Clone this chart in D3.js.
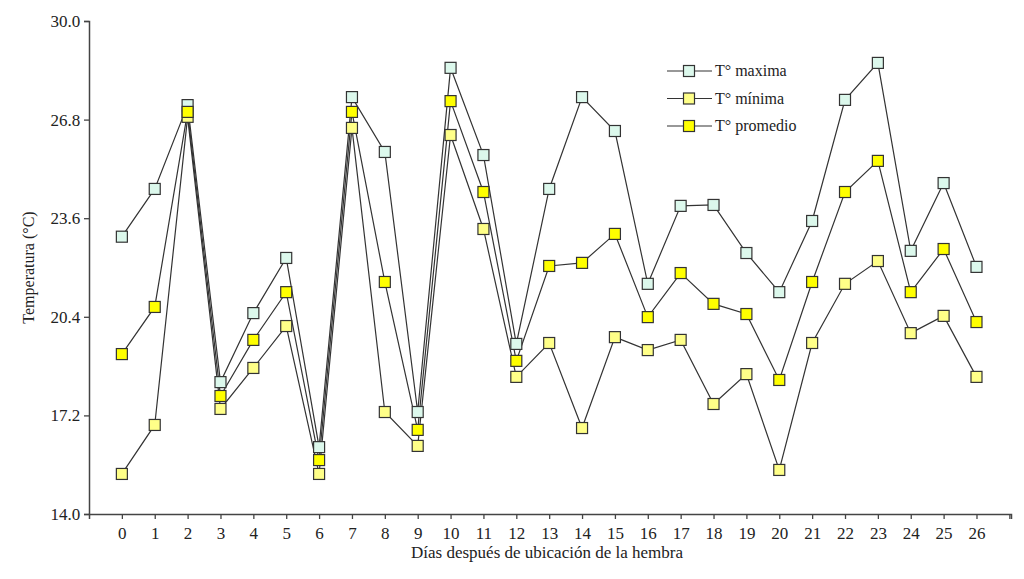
<!DOCTYPE html>
<html>
<head>
<meta charset="utf-8">
<script src="https://cdn.jsdelivr.net/npm/d3@7"></script>
<style>
  body { margin: 0; background: #fff; }
  svg text { font-family: 'Liberation Serif', 'Times New Roman', Times, serif !important; fill: #222; }
</style>
</head>
<body>
<div class="board"></div>
<script>
// days after placing the female
var days = d3.range(0, 27)
var yTicks = [14.0, 17.2, 20.4, 23.6, 26.8, 30.0]

var tMax = [23.0, 24.55, 27.27, 18.28, 20.52, 22.31, 16.17, 27.53, 25.75, 17.31, 28.48, 25.65, 19.52, 24.55,
    27.53, 26.43, 21.47, 24.0, 24.03, 22.47, 21.2, 23.51, 27.44, 28.64, 22.54, 24.74, 22.02]
var tMin = [15.3, 16.89, 26.89, 17.41, 18.74, 20.1, 15.3, 26.53, 17.31, 16.21, 26.3, 23.25, 18.45, 19.55,
    16.79, 19.74, 19.32, 19.65, 17.57, 18.54, 15.43, 19.55, 21.47, 22.21, 19.87, 20.43, 18.45]
var tProm = [19.19, 20.72, 27.05, 17.83, 19.65, 21.2, 15.75, 27.05, 21.53, 16.73, 27.4, 24.45, 18.97, 22.05,
    22.15, 23.09, 20.39, 21.82, 20.82, 20.49, 18.35, 21.53, 24.45, 25.46, 21.2, 22.6, 20.23]

var seriesNames = ["T° maxima", "T° mínima", "T° promedio"]
var seriesFill = ["#dcf8ec", "#ffff88", "#ffff00"]

var W = 1024, H = 579
var margin = { top: 21, right: 13, bottom: 65, left: 89 }
var FONT = "'Liberation Serif', 'Times New Roman', Times, serif"

var svg = d3.select(".board")
    .append("svg")
    .attr("width", W)
    .attr("height", H)
    .attr("font-family", FONT)

let x = d3.scaleLinear()
    .domain([-1, 27.05])
    .range([margin.left, W - margin.right])

let y = d3.scaleLinear()
    .domain([14, 30])
    .range([H - margin.bottom, margin.top])

// axes
let xAxis = svg.append("g")
    .attr("transform", `translate(0, ${y(14)})`)
    .call(d3.axisBottom(x)
        .tickValues(d3.range(0, 28))
        .tickSize(5)
        .tickFormat(d => d <= 26 ? d : ""))
xAxis.attr("font-family", FONT)
xAxis.selectAll("text").attr("font-size", 17).attr("dy", "1.0em")

let yAxis = svg.append("g")
    .attr("transform", `translate(${margin.left}, 0)`)
    .call(d3.axisLeft(y)
        .tickValues(yTicks)
        .tickSize(5)
        .tickFormat(d3.format(".1f")))
yAxis.attr("font-family", FONT)
yAxis.selectAll("text").attr("font-size", 17).attr("dx", "-0.05em")

svg.selectAll(".domain").attr("stroke", "#444").attr("stroke-width", 1.5)
svg.selectAll(".tick line").attr("stroke", "#444").attr("stroke-width", 1.3)
svg.selectAll(".tick text").attr("fill", "#222")

svg.append("text")
    .attr("x", (margin.left + W - margin.right) / 2 - 3)
    .attr("y", 558)
    .attr("text-anchor", "middle")
    .attr("font-size", 17)
    .text("Días después de ubicación de la hembra")

svg.append("text")
    .attr("transform", `translate(34, ${(y(14) + y(30)) / 2}) rotate(-90)`)
    .attr("text-anchor", "middle")
    .attr("font-size", 16)
    .text("Temperatura (°C)")

// series
var allSeries = [tMax, tMin, tProm]
let line = d3.line()
    .x((d, i) => x(days[i]))
    .y(d => y(d))

allSeries.forEach((s, k) => {
    svg.append("path")
        .datum(s)
        .attr("fill", "none")
        .attr("stroke", "#333")
        .attr("stroke-width", 1.2)
        .attr("d", line)
})

var SQ = 11
allSeries.forEach((s, k) => {
    svg.selectAll(".pt" + k)
        .data(s)
        .enter()
        .append("rect")
        .attr("x", (d, i) => x(days[i]) - SQ / 2)
        .attr("y", d => y(d) - SQ / 2)
        .attr("width", SQ)
        .attr("height", SQ)
        .attr("fill", seriesFill[k])
        .attr("stroke", "#333")
        .attr("stroke-width", 1.2)
})

// legend
let legend = svg.append("g").attr("transform", "translate(667, 71)")
seriesNames.forEach((name, k) => {
    let g = legend.append("g").attr("transform", `translate(0, ${k * 27.5})`)
    g.append("line")
        .attr("x1", 0).attr("x2", 45)
        .attr("stroke", "#333").attr("stroke-width", 1.2)
    g.append("rect")
        .attr("x", 22 - SQ / 2).attr("y", -SQ / 2)
        .attr("width", SQ).attr("height", SQ)
        .attr("fill", seriesFill[k])
        .attr("stroke", "#333").attr("stroke-width", 1.2)
    g.append("text")
        .attr("x", 48).attr("y", 5)
        .attr("font-size", 16)
        .text(name)
})
</script>
</body>
</html>
